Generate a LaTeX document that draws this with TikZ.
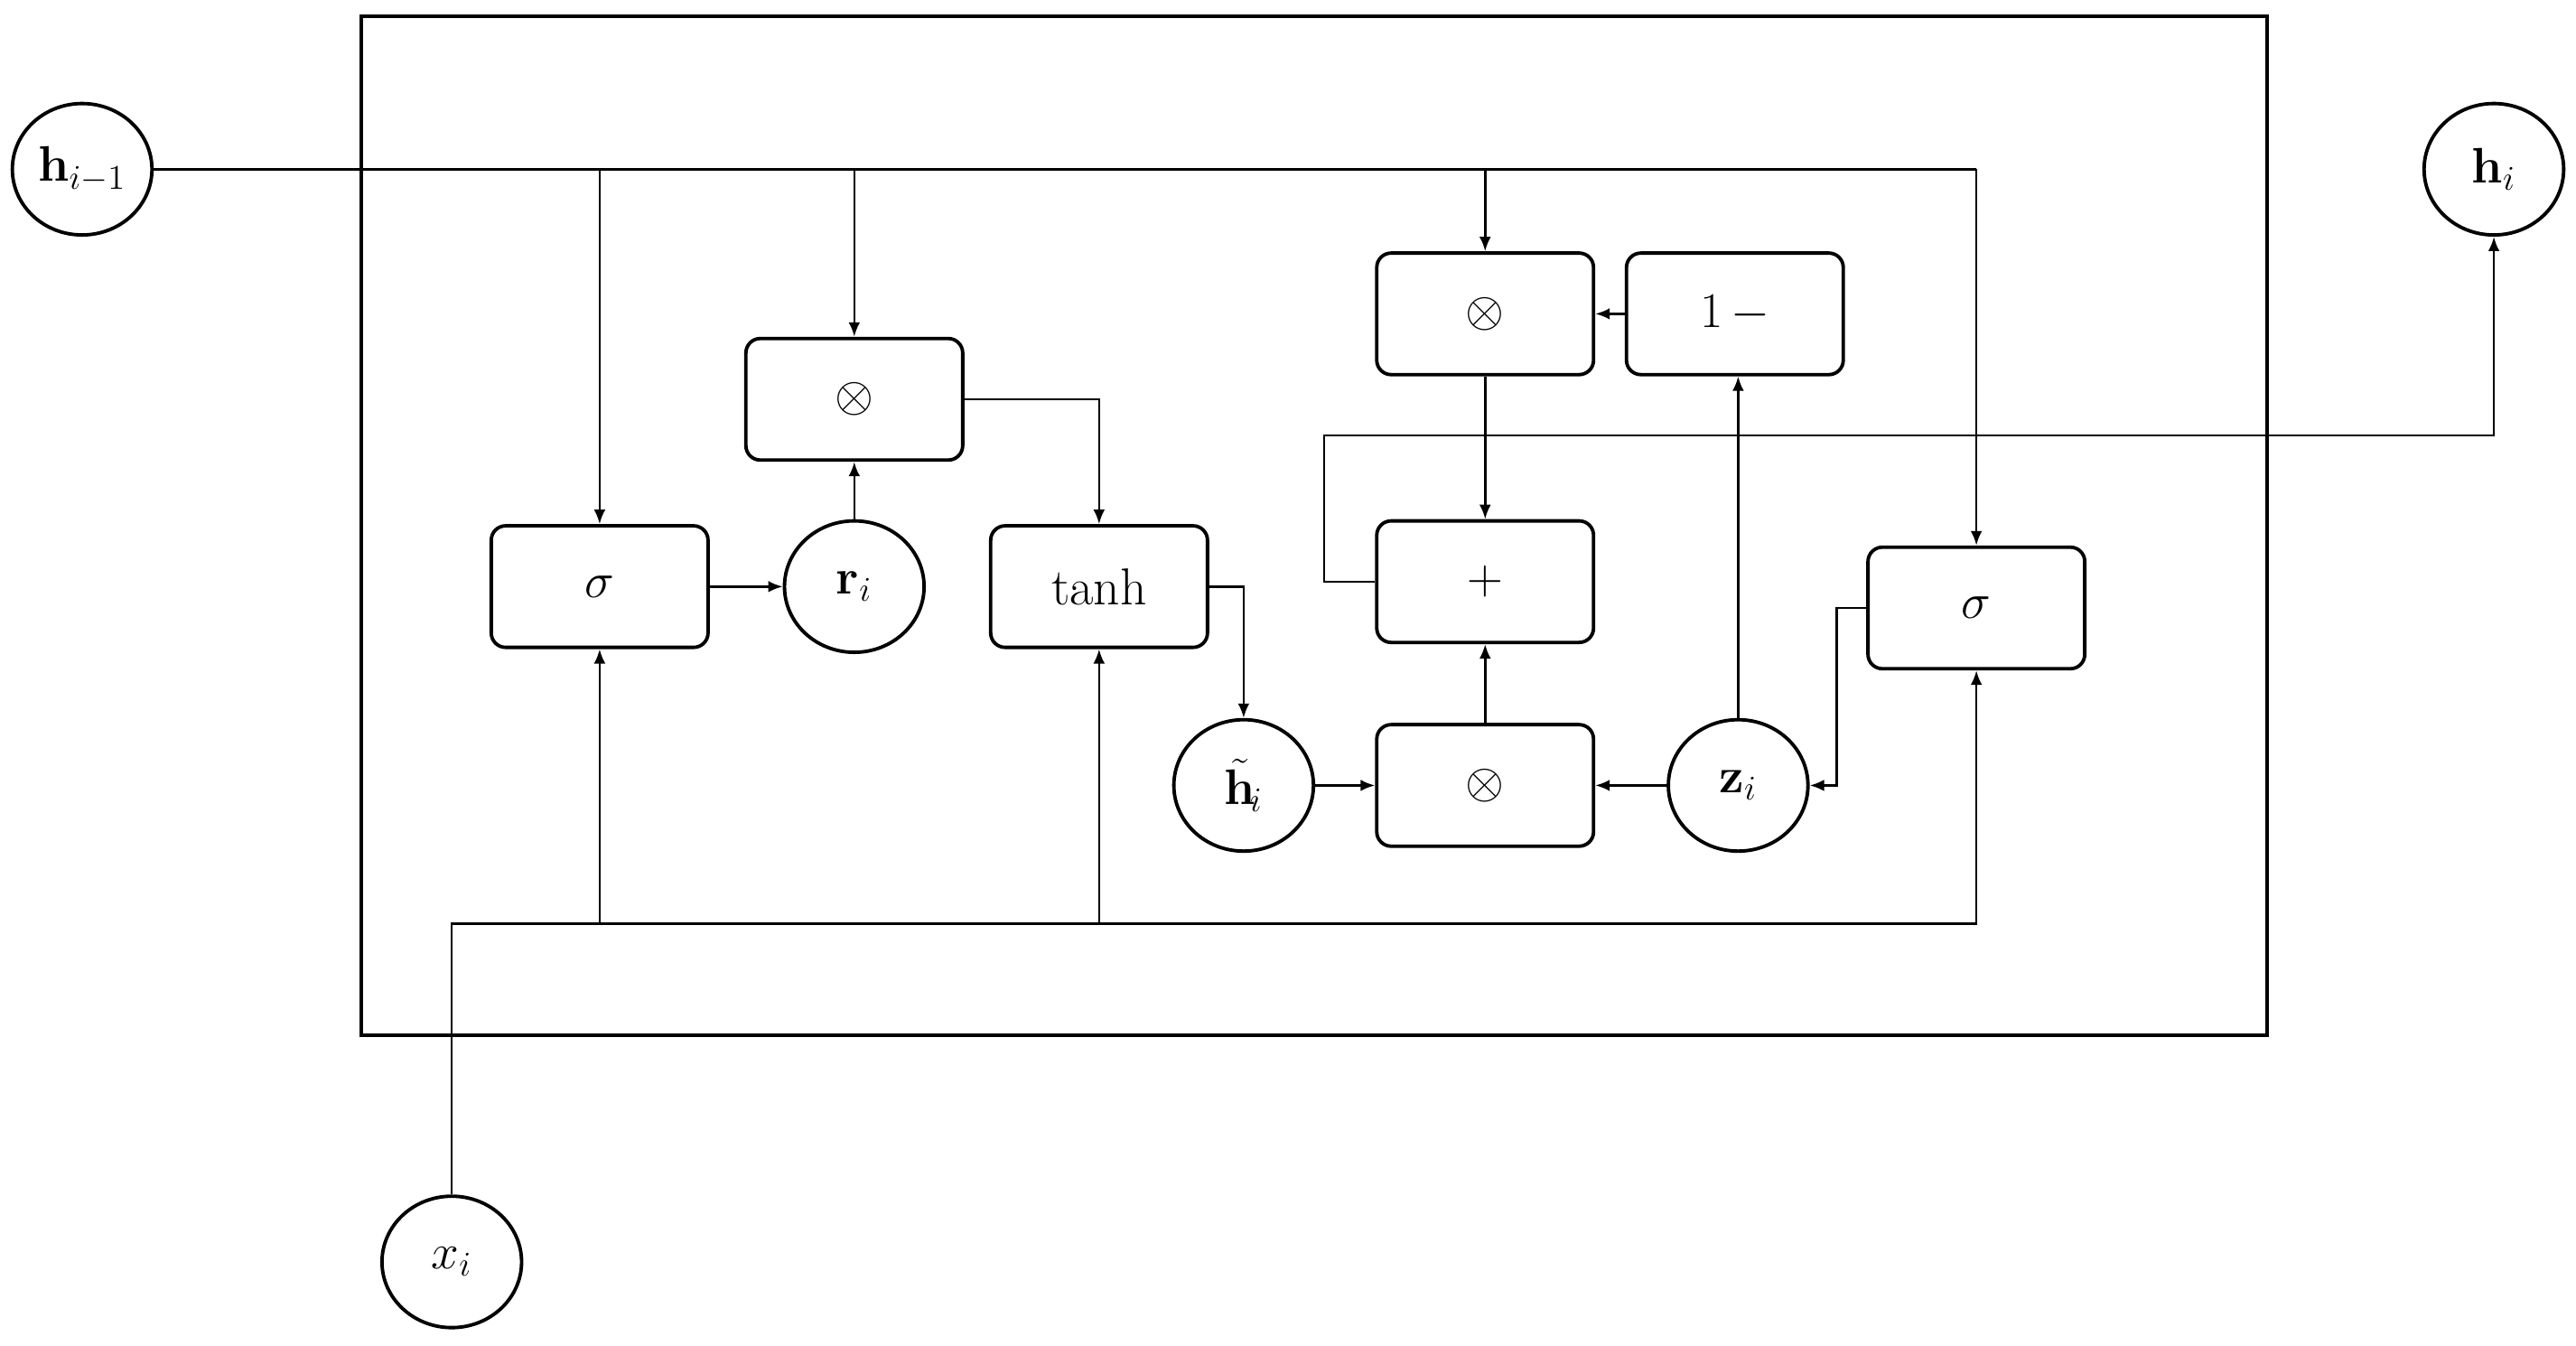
\documentclass[tikz,border=0pt]{standalone}
\usepackage{amsmath,bm}
\usetikzlibrary{arrows.meta,shapes.geometric}
\begin{document}
\begin{tikzpicture}[x=0.02cm,y=-0.02cm,
  box/.style={draw,line width=1.2pt,rounded corners=5pt,minimum width=2.64cm,minimum height=1.48cm,font=\fontsize{18}{22}\selectfont},
  circ/.style={draw,line width=1.2pt,ellipse,minimum width=1.7cm,minimum height=1.6cm,inner sep=0pt,font=\fontsize{18}{22}\selectfont},
  ln/.style={line width=0.8pt},
  ar/.style={ln,-{Latex[length=5pt,width=4pt]}}]
\useasboundingbox (0,0) rectangle (1568,819);
\draw[line width=1.4pt] (220,10) rectangle (1380,630);
\node[circ] (hp) at (50,103) {$\mathbf{h}_{i-1}$};
\node[circ] (hi) at (1518,103) {$\mathbf{h}_i$};
\node[circ] (xi) at (275,768) {$x_i$};
\node[box] (s1) at (365,357) {$\sigma$};
\node[circ] (ri) at (520,357) {$\mathbf{r}_i$};
\node[box] (m1) at (520,243) {$\otimes$};
\node[box] (th) at (669,357) {tanh};
\node[circ] (ht) at (757,478) {$\tilde{\mathbf{h}}_{\!i}$};
\node[box] (mb) at (904,478) {$\otimes$};
\node[circ] (zi) at (1058,478) {$\mathbf{z}_i$};
\node[box] (pl) at (904,354) {$+$};
\node[box] (mt) at (904,191) {$\otimes$};
\node[box] (om) at (1056,191) {$1\,-$};
\node[box] (s2) at (1203,370) {$\sigma$};
\coordinate (t0) at (1203,103);
\draw[ln] (hp.east) -- (t0);
\draw[ar] (365,103) -- (s1.north);
\draw[ar] (520,103) -- (m1.north);
\draw[ar] (904,103) -- (mt.north);
\draw[ar] (t0) -- (s2.north);
\draw[ar] (s1) -- (ri);
\draw[ar] (ri) -- (m1);
\draw[ar] (m1.east) -| (th.north);
\draw[ar] (th.east) -| (ht.north);
\draw[ar] (ht) -- (mb);
\draw[ar] (zi) -- (mb);
\draw[ar] (mb) -- (pl);
\draw[ar] (mt) -- (pl);
\draw[ar] (zi.north) -- (om.south -| zi.north);
\draw[ar] (om) -- (mt);
\draw[ar] (s2.west) -- (1118,370) |- (zi.east);
\draw[ar] (pl.west) -- (806,354) |- (1518,265) -- (hi.south);
\coordinate (xb) at (275,562);
\draw[ar] (xi.north) -- (xb) -| (s2.south);
\draw[ar] (365,562) -- (s1.south);
\draw[ar] (669,562) -- (th.south);
\end{tikzpicture}
\end{document}
